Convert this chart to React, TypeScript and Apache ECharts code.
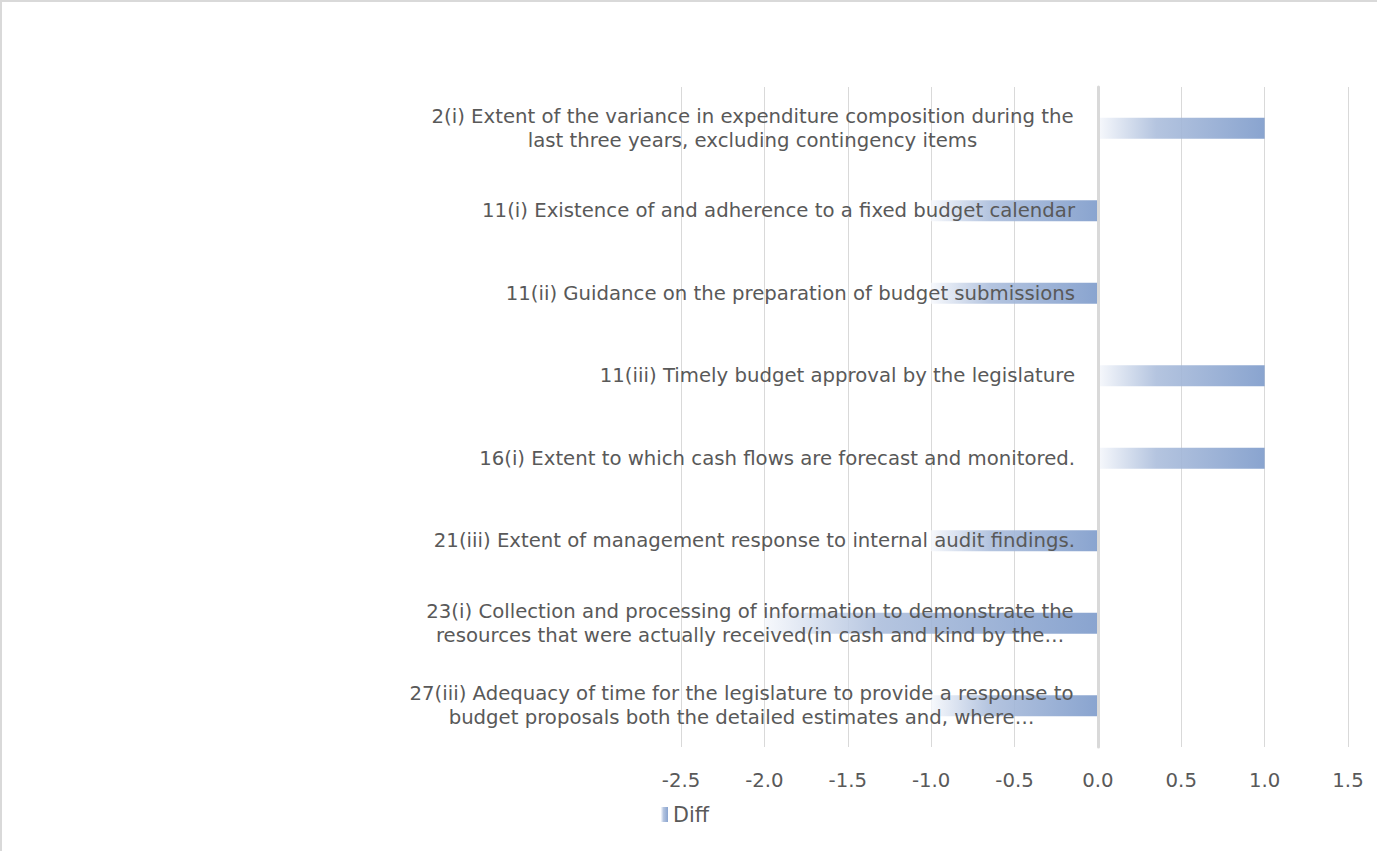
import React, { useEffect, useRef } from "react";
import * as echarts from "echarts";

const categories: string[][] = [
  ["2(i) Extent of the variance in expenditure composition during the", "last three years, excluding contingency items"],
  ["11(i) Existence of and adherence to a fixed budget calendar"],
  ["11(ii) Guidance on the preparation of budget submissions"],
  ["11(iii) Timely budget approval by the legislature"],
  ["16(i) Extent to which cash flows are forecast and monitored."],
  ["21(iii) Extent of management response to internal audit findings."],
  ["23(i) Collection and processing of information to demonstrate the", "resources that were actually received(in cash and kind by the…"],
  ["27(iii) Adequacy of time for the legislature to provide a response to", "budget proposals both the detailed estimates and, where…"],
];
const diffValues: number[] = [1, -1, -1, 1, 1, -1, -2, -1];
const seriesName = "Diff";
const xTicks = { min: -2.5, max: 1.5, interval: 0.5 };

const FONT = "DejaVu Sans";
const TEXT = "#595959";

export default function App() {
  const ref = useRef<HTMLDivElement>(null);
  useEffect(() => {
    if (!ref.current) return;
    document.body.style.margin = "0";
    const cv = document.createElement("canvas");
    const ctx = cv.getContext("2d")!;
    ctx.font = `20px "${FONT}"`;
    // fit the font size so the reference label spans its width in the reference
    const refW = ctx.measureText(categories[1][0]).width;
    const FS = Math.round((20 * 592) / refW * 10) / 10;
    ctx.font = `${FS}px "${FONT}"`;
    const rich: Record<string, any> = {};
    const labels = categories.map((lines, i) => {
      if (lines.length === 1) return lines[0];
      const w = Math.ceil(Math.max(...lines.map((l) => ctx.measureText(l).width))) + 2;
      rich["c" + i] = { width: w, align: "center", fontFamily: FONT, fontSize: FS, color: TEXT, lineHeight: 24 };
      return lines.map((l) => `{c${i}|${l}}`).join("\n");
    });
    const chart = echarts.init(ref.current, null, { renderer: "svg" });
    const grad = new echarts.graphic.LinearGradient(0, 0, 1, 0, [
      { offset: 0, color: "rgba(246,248,252,0.9)" },
      { offset: 0.35, color: "rgba(172,190,220,0.9)" },
      { offset: 1, color: "rgba(127,156,203,0.92)" },
    ]);
    chart.setOption({
      animation: false,
      backgroundColor: "#ffffff",
      textStyle: { fontFamily: FONT },
      graphic: [
        { type: "rect", shape: { x: 1, y: 1, width: 1420, height: 900 }, style: { fill: "none", stroke: "#d9d9d9", lineWidth: 2 }, z: 100 },
      ],
      grid: { left: 681, right: 29, top: 87, bottom: 104, containLabel: false },
      legend: {
        data: [seriesName],
        left: 656,
        top: 799,
        itemWidth: 7,
        itemHeight: 15,
        itemGap: 4,
        icon: "rect",
        textStyle: { color: TEXT, fontSize: FS + 1, fontFamily: FONT },
      },
      xAxis: {
        type: "value",
        min: xTicks.min,
        max: xTicks.max,
        interval: xTicks.interval,
        axisLine: { show: false },
        axisTick: { show: false },
        splitLine: { show: true, lineStyle: { color: "#d9d9d9", width: 1 } },
        axisLabel: {
          color: TEXT,
          fontSize: FS,
          fontFamily: FONT,
          margin: 23,
          formatter: (v: number) => v.toFixed(1),
        },
      },
      yAxis: {
        type: "category",
        inverse: true,
        data: labels,
        axisLine: { show: true, onZero: true, lineStyle: { color: "#d9d9d9", width: 3 } },
        axisTick: { show: false },
        splitLine: { show: false },
        axisLabel: {
          color: TEXT,
          fontSize: FS,
          fontFamily: FONT,
          margin: -394,
          lineHeight: 24,
          interval: 0,
          rich,
        },
        z: 10,
      },
      series: [
        {
          name: seriesName,
          type: "bar",
          data: diffValues,
          barWidth: 21,
          itemStyle: { color: grad },
        },
      ],
    });
    return () => chart.dispose();
  }, []);
  return <div ref={ref} style={{ width: 1377, height: 851, position: "absolute", left: 0, top: 0 }} />;
}
